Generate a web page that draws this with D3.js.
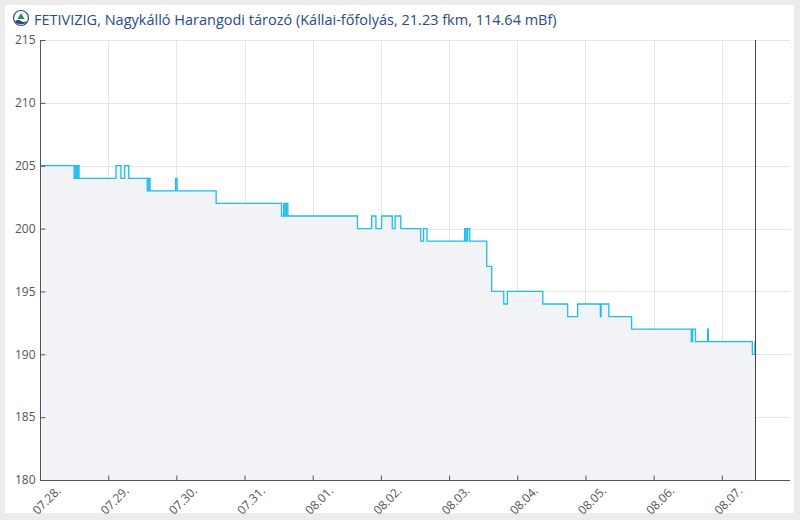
<!DOCTYPE html>
<html>
<head>
<meta charset="utf-8">
<script src="https://cdn.jsdelivr.net/npm/d3@7"></script>
<style>
  body { margin: 0; background: #ececec; }
  svg { display: block; font-family: "Open Sans", "Noto Sans", sans-serif; }
</style>
</head>
<body>
<div id="chart"><svg></svg></div>
<script>
// vízállás (cm), FETIVIZIG Nagykálló Harangodi tározó
var title = 'FETIVIZIG, Nagykálló Harangodi tározó (Kállai-főfolyás, 21.23 fkm, 114.64 mBf)';

var stamps = [
    '07-28 00:00', '07-28 12:00', '07-28 12:30', '07-28 13:00', '07-28 13:15', '07-28 13:45',
    '07-29 02:45', '07-29 04:30', '07-29 05:45', '07-29 07:15', '07-29 13:45', '07-29 14:15',
    '07-29 14:45', '07-29 23:45', '07-30 00:15', '07-30 14:00', '07-31 13:00', '07-31 13:45',
    '07-31 14:15', '07-31 14:45', '07-31 15:15', '08-01 15:45', '08-01 20:45', '08-01 22:15',
    '08-02 00:15', '08-02 04:00', '08-02 05:00', '08-02 07:00', '08-02 14:00', '08-02 15:00',
    '08-02 16:15', '08-03 05:30', '08-03 06:00', '08-03 06:30', '08-03 07:15', '08-03 13:15',
    '08-03 15:00', '08-03 19:15', '08-03 20:30', '08-04 09:00', '08-04 17:45', '08-04 21:15',
    '08-05 05:15', '08-05 05:30', '08-05 08:15', '08-05 16:15', '08-06 13:15', '08-06 13:45',
    '08-06 14:45', '08-06 19:00', '08-06 19:15', '08-07 10:45', '08-07 11:40'
];
var levels = [
    205, 204, 205, 204, 205, 204,
    205, 204, 205, 204, 203, 204,
    203, 204, 203, 202, 201, 202,
    201, 202, 201, 200, 201, 200,
    201, 200, 201, 200, 199, 200,
    199, 200, 199, 200, 199, 197,
    195, 194, 195, 194, 193, 194,
    193, 194, 193, 192, 191, 192,
    191, 192, 191, 190, 191
];

var yTicks = [180, 185, 190, 195, 200, 205, 210, 215];
var dayTicks = ['07-28 00:00', '07-29 00:00', '07-30 00:00', '07-31 00:00', '08-01 00:00', '08-02 00:00',
    '08-03 00:00', '08-04 00:00', '08-05 00:00', '08-06 00:00', '08-07 00:00'];
var xStart = '07-28 00:00';
var xEnd = '08-08 00:00';
var nowStamp = '08-07 11:40';

var parse = d3.timeParse('%Y-%m-%d %H:%M');
function toDate(s) { return parse('2024-' + s); }

function LevelChart(svgId, width, height) {
    this.svgId = svgId;
    this.svgWidth = width;
    this.svgHeight = height;
    this.margin = { left: 40, right: 10, top: 40, bottom: 40 };
}

LevelChart.prototype.init = function () {
    this.svg = d3.select(this.svgId).select('svg')
        .attr('width', this.svgWidth)
        .attr('height', this.svgHeight);

    this.svg.append('rect')
        .attr('x', 5).attr('y', 5)
        .attr('width', this.svgWidth - 11)
        .attr('height', this.svgHeight - 12)
        .attr('fill', '#fff');

    this.x = d3.scaleTime()
        .domain([toDate(xStart), toDate(xEnd)])
        .range([this.margin.left, this.svgWidth - this.margin.right]);
    this.y = d3.scaleLinear()
        .domain([d3.min(yTicks), d3.max(yTicks)])
        .range([this.svgHeight - this.margin.bottom, this.margin.top]);
};

LevelChart.prototype.update = function () {
    var x = this.x, y = this.y;
    var data = stamps.map(function (s, i) { return { t: toDate(s), v: levels[i] }; });
    var days = dayTicks.map(toDate);
    var left = x.range()[0], right = x.range()[1];
    var top = y.range()[1], bottom = y.range()[0];

    // grid
    var grid = this.svg.append('g').attr('stroke', '#e6e6e6').attr('stroke-width', 1);
    grid.selectAll('.hg').data(yTicks).enter().append('line')
        .attr('x1', left).attr('x2', right)
        .attr('y1', function (d) { return Math.round(y(d)) + 0.5; })
        .attr('y2', function (d) { return Math.round(y(d)) + 0.5; });
    grid.selectAll('.vg').data(days.slice(1)).enter().append('line')
        .attr('y1', top).attr('y2', bottom)
        .attr('x1', function (d) { return Math.round(x(d)) + 0.5; })
        .attr('x2', function (d) { return Math.round(x(d)) + 0.5; });

    // area + line
    var area = d3.area().curve(d3.curveStepAfter)
        .x(function (d) { return x(d.t); })
        .y0(bottom)
        .y1(function (d) { return y(d.v); });
    var line = d3.line().curve(d3.curveStepAfter)
        .x(function (d) { return x(d.t); })
        .y(function (d) { return y(d.v); });

    this.svg.append('path').datum(data)
        .attr('d', area)
        .attr('fill', '#f2f3f7');
    this.svg.append('path').datum(data)
        .attr('d', line)
        .attr('fill', 'none')
        .attr('stroke', '#1cbcec')
        .attr('stroke-width', 1.3);

    // now line
    var nx = Math.round(x(toDate(nowStamp))) + 0.5;
    this.svg.append('line')
        .attr('x1', nx).attr('x2', nx)
        .attr('y1', top).attr('y2', bottom)
        .attr('stroke', '#444').attr('stroke-width', 1);

    // axes
    var yAxis = d3.axisRight(y).tickValues(yTicks).tickSize(5).tickFormat(d3.format('d'));
    var gy = this.svg.append('g')
        .attr('transform', 'translate(' + (left + 0.5) + ',0)')
        .call(yAxis);
    gy.select('.domain').attr('stroke', '#555').attr('d', 'M0,' + top + 'V' + bottom);
    gy.selectAll('.tick line').attr('stroke', '#555');
    gy.selectAll('.tick text')
        .attr('x', -5).attr('text-anchor', 'end')
        .attr('fill', '#555').attr('font-size', 12);

    var xAxis = d3.axisTop(x).tickValues(days).tickSize(5)
        .tickFormat(d3.timeFormat('%m.%d.'));
    var gx = this.svg.append('g')
        .attr('transform', 'translate(0,' + (bottom + 0.5) + ')')
        .call(xAxis);
    gx.select('.domain').attr('stroke', '#555').attr('d', 'M' + left + ',0H' + right);
    gx.selectAll('.tick line').attr('stroke', '#555');
    gx.selectAll('.tick text')
        .attr('y', 0).attr('dy', 0)
        .attr('text-anchor', 'end')
        .attr('transform', 'translate(21,11) rotate(-45)')
        .attr('fill', '#555').attr('font-size', 12);
    gx.attr('font-family', null);
    gy.attr('font-family', null);

    // title + logo
    var logo = this.svg.append('g').attr('transform', 'translate(21,18)');
    logo.append('circle').attr('r', 7.5).attr('fill', '#fff')
        .attr('stroke', '#2a4a86').attr('stroke-width', 1.2);
    logo.append('path').attr('d', 'M0,-5 L3.5,1 L-3.5,1 Z').attr('fill', '#2f8a3c');
    logo.append('path').attr('d', 'M-6,3 Q-3,1 0,3 T6,3 L5,5 Q0,7.5 -5,5 Z').attr('fill', '#2a4a86');

    this.svg.append('text')
        .attr('x', 34).attr('y', 25)
        .attr('fill', '#2a4a86')
        .attr('font-size', 14.5)
        .text(title);
};

var chart = new LevelChart('#chart', 800, 520);
chart.init();
chart.update();
</script>
</body>
</html>
